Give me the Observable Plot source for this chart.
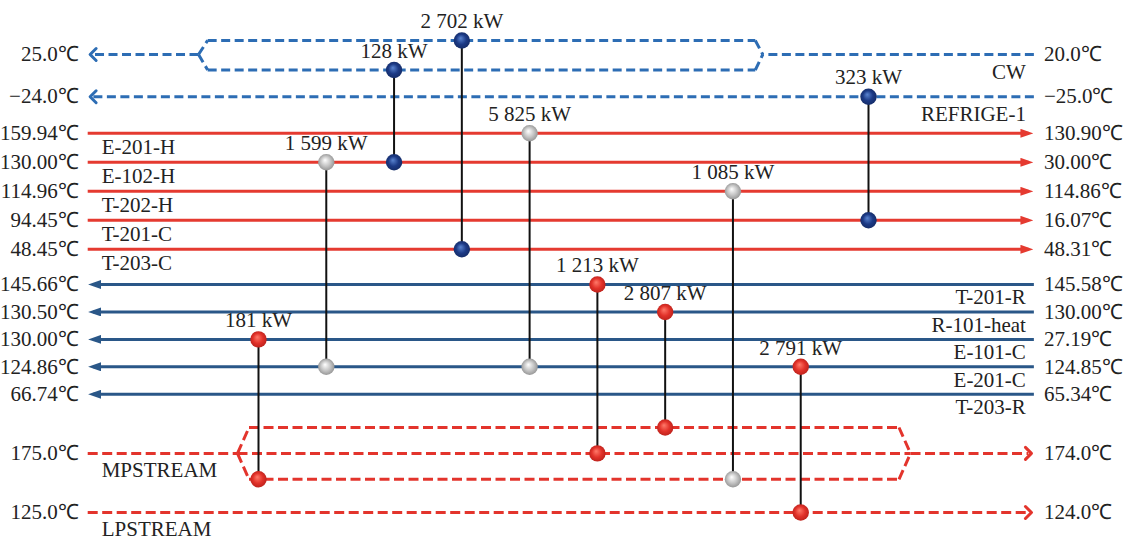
<!DOCTYPE html>
<html>
<head>
<meta charset="utf-8">
<script src="https://cdn.jsdelivr.net/npm/d3@7"></script>
<script src="https://cdn.jsdelivr.net/npm/@observablehq/plot@0.6"></script>
<style>
  html, body { margin: 0; padding: 0; background: #fff; }
  #chart svg { display: block; }
  g[aria-label^="nodes"] circle { filter: drop-shadow(1px 2px 1.5px rgba(0,0,0,0.45)); }
  svg marker path { stroke-dasharray: none; }
</style>
</head>
<body>
<div id="chart"></div>
<script>
// ---- Streams, top to bottom ----
const streams = ["CW", "REFRIGE-1", "E-201-H", "E-102-H", "T-202-H", "T-201-C", "T-203-C",
  "T-201-R", "R-101-heat", "E-101-C", "E-201-C", "T-203-R", "MPSTREAM", "LPSTREAM"];
const streamKinds = ["coldUtility", "coldUtility", "hot", "hot", "hot", "hot", "hot",
  "cold", "cold", "cold", "cold", "cold", "hotUtility", "hotUtility"];
const leftTemps = ["25.0", "−24.0", "159.94", "130.00", "114.96", "94.45", "48.45",
  "145.66", "130.50", "130.00", "124.86", "66.74", "175.0", "125.0"];
const rightTemps = ["20.0", "−25.0", "130.90", "30.00", "114.86", "16.07", "48.31",
  "145.58", "130.00", "27.19", "124.85", "65.34", "174.0", "124.0"];

// Utility streams split into parallel branches
const splitStreams = ["CW", "MPSTREAM"];
const splitBranches = [["upper", "lower"], ["upper", "main", "lower"]];

// ---- Heat exchangers, left to right ----
const matchDuty = [181, 1599, 128, 2702, 5825, 1213, 2807, 1085, 2791, 323];
const matchTop = ["E-101-C", "E-102-H", "CW", "CW", "E-201-H", "T-201-R", "R-101-heat", "T-202-H", "E-201-C", "REFRIGE-1"];
const matchTopBranch = [null, null, "lower", "upper", null, null, null, null, null, null];
const matchBottom = ["MPSTREAM", "E-201-C", "E-102-H", "T-203-C", "E-201-C", "MPSTREAM", "MPSTREAM", "MPSTREAM", "LPSTREAM", "T-201-C"];
const matchBottomBranch = ["lower", null, null, null, null, "main", "upper", "lower", null, null];
const matchKinds = ["heater", "exchanger", "cooler", "cooler", "exchanger", "heater", "heater", "exchanger", "heater", "cooler"];

// ---- Layout ----
// Row spacing (row units) within a stream group and between consecutive groups
const within = {coldUtility: 1.5, hot: 1.03, cold: 0.975, hotUtility: 2.1};
const between = {"coldUtility>hot": 1.3, "hot>cold": 1.25, "cold>hotUtility": 2.1};
const rowOf = new Map();
let row = 0;
streams.forEach((s, i) => {
  if (i > 0) {
    const a = streamKinds[i - 1], b = streamKinds[i];
    row += a === b ? within[a] : between[`${a}>${b}`];
  }
  rowOf.set(s, row);
});
const branchOffset = {CW: {upper: -0.5, lower: 0.55}, MPSTREAM: {upper: -0.92, main: 0, lower: 0.92}};
const yOf = (s, b) => rowOf.get(s) + (b ? branchOffset[s][b] : 0);

// Horizontal extent in exchanger-column units
const lineLeft = -2.52, lineRight = 11.44;    // plain stream ends
const arrowLeft = -2.44, arrowRight = 11.36;  // ends carrying an arrowhead
// split vertex, branch start, branch end, merge vertex
const splitAt = {CW: [-0.885, -0.75, 7.33, 7.44], MPSTREAM: [-0.31, -0.14, 9.45, 9.62]};

const flowsRight = (k) => k === "hot" || k === "hotUtility";

const runs = [];     // straight stream segments
const branchSegs = []; // pieces of the branch polylines
const labels = [];   // per-stream text
streams.forEach((s, i) => {
  const kind = streamKinds[i], y = yOf(s);
  const right = flowsRight(kind);
  const start = right ? lineLeft : lineRight, end = right ? arrowRight : arrowLeft;
  labels.push({stream: s, kind, y, left: leftTemps[i] + "℃", right: rightTemps[i] + "℃"});
  const si = splitStreams.indexOf(s);
  if (si < 0) {
    runs.push({stream: s, kind, x1: start, x2: end, y, arrow: true});
    return;
  }
  const [a0, a1, b1, b0] = splitAt[s];
  const inX = right ? a0 : b0, outX = right ? b0 : a0;
  runs.push({stream: s, kind, x1: start, x2: inX, y, arrow: false});
  runs.push({stream: s, kind, x1: outX, x2: end, y, arrow: true});
  for (const b of splitBranches[si]) {
    const yb = yOf(s, b);
    const pts = b === "main" ? [[a0, y], [b0, y]] : [[a0, y], [a1, yb], [b1, yb], [b0, y]];
    for (let j = 1; j < pts.length; ++j) {
      branchSegs.push({kind, x1: pts[j - 1][0], y1: pts[j - 1][1], x2: pts[j][0], y2: pts[j][1]});
    }
  }
});

const matches = matchDuty.map((duty, i) => ({
  col: i, duty, kind: matchKinds[i],
  yTop: yOf(matchTop[i], matchTopBranch[i]),
  yBottom: yOf(matchBottom[i], matchBottomBranch[i])
}));
const nodes = matches.flatMap((m) => [{col: m.col, y: m.yTop, kind: m.kind}, {col: m.col, y: m.yBottom, kind: m.kind}]);

const fmt = d3.formatLocale({decimal: ".", thousands: " ", grouping: [3], currency: ["", ""]}).format(",d");

// ---- Styles ----
const colors = {
  coldUtility: "#2d6db4", hotUtility: "#e3342c", hot: "#e53a30", cold: "#2a5788"
};
const nodeFill = {
  cooler: ["#5a84d0", "#1c3a86", "#142a63"],
  heater: ["#ff7a6a", "#e2322a", "#b8201a"],
  exchanger: ["#ffffff", "#c4c4c4", "#8e8e8e"]
};
const fontFamily = "'Liberation Serif', 'Times New Roman', serif";
const nameGap = {hot: 14, cold: 13, coldUtility: 18, hotUtility: 17};

// Filled triangular arrowhead for solid process streams
const solidHead = (color) => d3.create("svg:marker")
  .attr("viewBox", "-8 -4.5 13 9")
  .attr("markerWidth", 13).attr("markerHeight", 9)
  .attr("markerUnits", "userSpaceOnUse")
  .attr("orient", "auto")
  .attr("fill", color).attr("stroke", "none")
  .call((m) => m.append("path").attr("d", "M-8,-4.5L5,0L-8,4.5Z"))
  .node();

const gradients = () => {
  const defs = d3.create("svg:defs");
  for (const [k, [c0, c1, c2]] of Object.entries(nodeFill)) {
    const g = defs.append("radialGradient").attr("id", `node-${k}`)
      .attr("cx", "50%").attr("cy", "50%").attr("r", "55%").attr("fx", "42%").attr("fy", "36%");
    g.append("stop").attr("offset", "0%").attr("stop-color", c0);
    g.append("stop").attr("offset", "55%").attr("stop-color", c1);
    g.append("stop").attr("offset", "100%").attr("stop-color", c2);
  }
  return defs.node();
};

function build(headMarker) {
  const marks = [gradients];
  // dashed utility streams
  for (const kind of ["coldUtility", "hotUtility"]) {
    const dash = {stroke: colors[kind], strokeWidth: 3, strokeDasharray: kind === "coldUtility" ? "9,4.5" : "10,4.5"};
    marks.push(Plot.link(branchSegs.filter((d) => d.kind === kind), {x1: "x1", y1: "y1", x2: "x2", y2: "y2", ...dash, strokeLinejoin: "round"}));
    marks.push(Plot.link(runs.filter((d) => d.kind === kind && !d.arrow), {x1: "x1", x2: "x2", y1: "y", y2: "y", ...dash}));
    marks.push(Plot.link(runs.filter((d) => d.kind === kind && d.arrow), {x1: "x1", x2: "x2", y1: "y", y2: "y", ...dash, markerEnd: "arrow"}));
  }
  // solid process streams
  for (const kind of ["hot", "cold"]) {
    marks.push(Plot.link(runs.filter((d) => d.kind === kind), {
      x1: "x1", x2: "x2", y1: "y", y2: "y", stroke: colors[kind], strokeWidth: 3,
      markerEnd: headMarker
    }));
  }
  // exchanger connectors and nodes
  marks.push(Plot.link(matches, {x1: "col", x2: "col", y1: "yTop", y2: "yBottom", stroke: "#111", strokeWidth: 2}));
  for (const kind of Object.keys(nodeFill)) {
    marks.push(Plot.dot(nodes.filter((d) => d.kind === kind), {x: "col", y: "y", r: 8.2, fill: `url(#node-${kind})`, stroke: "none", ariaLabel: "nodes " + kind}));
  }
  // duty labels
  marks.push(Plot.text(matches, {x: "col", y: "yTop", text: (d) => `${fmt(d.duty)} kW`, dy: -19, fontSize: 21, fill: "#222"}));
  // temperatures
  marks.push(Plot.text(labels, {x: () => lineLeft, y: "y", text: "left", textAnchor: "end", dx: -9, fontSize: 21, fill: "#222"}));
  marks.push(Plot.text(labels, {x: () => lineRight, y: "y", text: "right", textAnchor: "start", dx: 10, fontSize: 21, fill: "#222"}));
  // stream names: left side for streams flowing right, right side for streams flowing left
  for (const kind of Object.keys(nameGap)) {
    const right = flowsRight(kind);
    marks.push(Plot.text(labels.filter((d) => d.kind === kind), {
      x: () => right ? lineLeft : lineRight, y: "y", text: "stream",
      textAnchor: right ? "start" : "end", dx: right ? 14 : -8, dy: nameGap[kind],
      fontSize: 21, fill: "#222"
    }));
  }

  return Plot.plot({
    width: 1128,
    height: 544,
    margin: 0,
    style: {fontFamily, fontSize: "21px", background: "#fff", overflow: "visible"},
    x: {type: "linear", domain: [0, 9], range: [258, 868], axis: null},
    y: {type: "linear", domain: [0, rowOf.get("LPSTREAM")], range: [54, 512], axis: null},
    marks
  });
}

let chart;
try {
  chart = build(solidHead);
} catch (e) {
  chart = build("arrow");
}
document.getElementById("chart").append(chart);
</script>
</body>
</html>
